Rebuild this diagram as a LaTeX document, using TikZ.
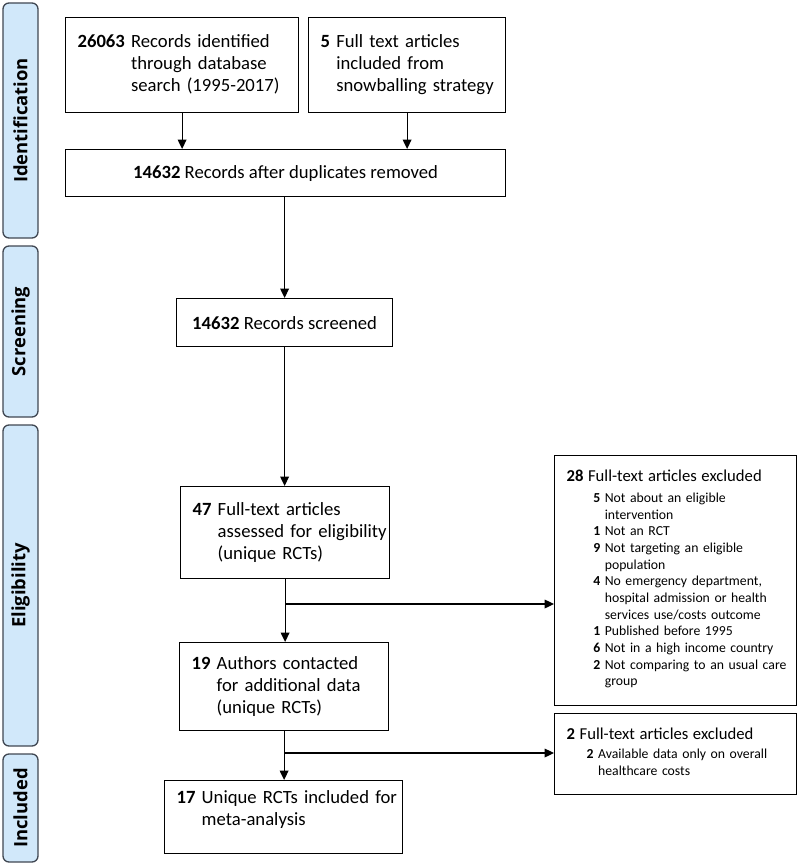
\documentclass[tikz,border=0pt]{standalone}
\usepackage{fontspec}
\setmainfont{Carlito}
\newfontfamily\bandfont{Open Sans}
\usepackage{xcolor}
\definecolor{bandblue}{rgb}{0.82,0.91,0.98}
\definecolor{darkgrey}{rgb}{0.25,0.28,0.32}
\usetikzlibrary{arrows.meta}
\newcommand{\mainsize}{\fontsize{14}{16.5}\selectfont}
\newcommand{\headsize}{\fontsize{12.5}{15}\selectfont}
\newcommand{\subsize}{\fontsize{10.3}{12.5}\selectfont}

\begin{document}
\begin{tikzpicture}
    [x=0.75pt, y=-0.75pt,
     band/.style={draw=darkgrey, line width=1pt, fill=bandblue, rounded corners=4.5pt,
                  rotate=90, minimum height=26.25pt, inner sep=0pt,
                  font=\bandfont\bfseries\fontsize{13.8}{15}\selectfont},
     box/.style={draw, line width=0.9pt, anchor=north west, inner xsep=9pt,
                 inner ysep=0pt, font=\mainsize},
     exclbox/.style={box, font=\subsize},
     arr/.style={line width=0.9pt, -{Triangle[length=7pt,width=6.5pt]}}]
    \useasboundingbox (0,0) rectangle (800,866);
    % stages
    \node[band, minimum width=176.25pt] (ident) at (20.5,120.5) {Identification};
    \node[band, minimum width=128.25pt] (screen) at (20.5,331.5) {Screening};
    \node[band, minimum width=240.75pt] (elig) at (20.5,585.5) {Eligibility};
    \node[band, minimum width=81pt] (incl) at (20.5,808) {Included};
    % boxes
    \node[box, text width=156.75pt, minimum height=71.25pt, align=left] (records) at (65,17)
        {\begin{tabular}{@{}l@{ }l@{}}
         \textbf{26063} & Records identified\\
                        & through database\\
                        & search (1995-2017)
         \end{tabular}};
    \node[box, text width=129.75pt, minimum height=71.25pt, align=left] (snowball) at (308,17)
        {\begin{tabular}{@{}l@{ }l@{}}
         \textbf{5} & Full text articles\\
                    & included from\\
                    & snowballing strategy
         \end{tabular}};
    \node[box, minimum width=330pt, minimum height=35.25pt] (dupl) at (65,149)
        {\textbf{14632} Records after duplicates removed};
    \node[box, minimum width=162pt, minimum height=36pt] (screened) at (176,298)
        {\textbf{14632} Records screened};
    \node[box, text width=138.75pt, minimum height=69pt, align=left] (assessed) at (180,486)
        {\begin{tabular}{@{}l@{ }l@{}}
         \textbf{47} & Full-text articles\\
                     & assessed for eligibility\\
                     & (unique RCTs)
         \end{tabular}};
    \node[box, text width=138.75pt, minimum height=66pt, align=left] (contacted) at (179,642)
        {\begin{tabular}{@{}l@{ }l@{}}
         \textbf{19} & Authors contacted\\
                     & for additional data\\
                     & (unique RCTs)
         \end{tabular}};
    \node[box, text width=160.5pt, minimum height=54.75pt, align=left] (included) at (164,780)
        {\begin{tabular}{@{}l@{ }l@{}}
         \textbf{17} & Unique RCTs included for\\
                     & meta-analysis\\[10pt]
         \end{tabular}};
    \node[exclbox, text width=163.5pt, minimum height=187.5pt, align=left] (excl1) at (554,455)
        {\begin{tabular}{@{\hspace{20pt}}l@{ }l@{}}
         \multicolumn{2}{@{}l@{}}{\headsize\textbf{28} Full-text articles excluded}\\[3pt]
         \textbf{5} & Not about an eligible\\
                    & intervention\\
         \textbf{1} & Not an RCT\\
         \textbf{9} & Not targeting an eligible\\
                    & population\\
         \textbf{4} & No emergency department,\\
                    & hospital admission or health\\
                    & services use/costs outcome\\
         \textbf{1} & Published before 1995\\
         \textbf{6} & Not in a high income country\\
         \textbf{2} & Not comparing to an usual care\\
                    & group
         \end{tabular}};
    \node[exclbox, text width=163.5pt, minimum height=60.75pt, align=left] (excl2) at (554,713)
        {\begin{tabular}{@{\hspace{15pt}}l@{ }l@{}}
         \multicolumn{2}{@{}l@{}}{\headsize\textbf{2} Full-text articles excluded}\\[2pt]
         \textbf{2} & Available data only on overall\\
                    & healthcare costs
         \end{tabular}};
    % arrows
    \draw[arr] (records.south) -- (records.south |- dupl.north);
    \draw[arr] (snowball.south) -- (snowball.south |- dupl.north);
    \draw[arr] (dupl.south -| screened.north) -- (screened.north);
    \draw[arr] (screened.south) -- (screened.south |- assessed.north);
    \draw[arr] (assessed.south) -- (assessed.south |- contacted.north);
    \coordinate (split1) at (assessed.south |- 0,604);
    \draw[arr] (split1) -- (split1 -| excl1.west);
    \draw[arr] (contacted.south) -- (contacted.south |- included.north);
    \coordinate (split2) at (contacted.south |- 0,753);
    \draw[arr] (split2) -- (split2 -| excl2.west);
\end{tikzpicture}
\end{document}
